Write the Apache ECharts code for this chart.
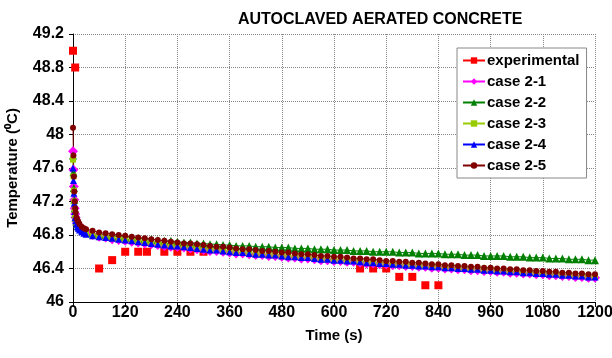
<!DOCTYPE html>
<html><head><meta charset="utf-8">
<script src="https://cdn.jsdelivr.net/npm/echarts@6/dist/echarts.min.js"></script>
<style>html,body{margin:0;padding:0;background:#fff}#c{width:612px;height:358px}</style>
</head><body><div id="c"></div>
<script>
const titleText = 'AUTOCLAVED AERATED CONCRETE';
const xName = 'Time (s)';
const yName = 'Temperature (\u2070C)';
const seriesNames = ['experimental','case 2-1','case 2-2','case 2-3','case 2-4','case 2-5'];

const expTime = [0,5,60,90,120,150,170,210,240,270,300,660,690,720,750,780,810,840];
const expTemp = [49.0,48.8,46.4,46.5,46.6,46.6,46.6,46.6,46.6,46.6,46.6,46.4,46.4,46.4,46.3,46.3,46.2,46.2];

const simTime = [0,1,2,3,4,5,6,8,10,12,15,20,25,30,
45,60,75,90,105,120,
135,150,165,180,195,210,225,240,255,270,285,300,315,330,345,360,375,390,405,420,
435,450,465,480,495,510,525,540,555,570,585,600,615,630,645,660,675,690,705,720,735,750,765,780,795,810,825,
840,855,870,885,900,915,930,945,960,975,990,1005,1020,1035,1050,1065,1080,1095,1110,1125,1140,1155,1170,1185,1200];

const case21 = [47.80,47.58,47.38,47.22,47.12,47.05,47.01,46.96,46.93,46.91,46.89,46.86,46.84,46.83,
46.80,46.78,46.77,46.75,46.74,46.73,
46.72,46.71,46.70,46.69,46.68,46.67,46.66,46.66,46.65,46.64,46.63,46.62,46.61,46.61,46.60,46.59,46.58,46.58,46.57,46.56,
46.56,46.55,46.55,46.54,46.53,46.53,46.52,46.52,46.51,46.50,46.50,46.49,46.49,46.48,46.48,46.47,46.46,46.46,46.45,46.45,46.44,46.44,46.43,46.43,46.42,46.42,46.41,
46.41,46.40,46.40,46.39,46.39,46.38,46.38,46.37,46.37,46.36,46.36,46.35,46.35,46.34,46.34,46.33,46.33,46.32,46.32,46.31,46.31,46.30,46.30,46.29,46.29];

const case22 = [47.75,47.55,47.36,47.22,47.12,47.05,47.01,46.96,46.93,46.91,46.89,46.87,46.85,46.84,
46.82,46.81,46.80,46.79,46.78,46.78,
46.77,46.76,46.75,46.75,46.74,46.73,46.73,46.72,46.71,46.71,46.70,46.70,46.69,46.69,46.68,46.68,46.67,46.67,46.67,46.66,
46.66,46.66,46.65,46.65,46.65,46.64,46.64,46.64,46.63,46.63,46.63,46.62,46.62,46.62,46.61,46.61,46.61,46.60,46.60,46.60,46.60,46.59,46.59,46.59,46.58,46.58,46.58,
46.58,46.57,46.57,46.57,46.56,46.56,46.56,46.55,46.55,46.55,46.55,46.54,46.54,46.54,46.53,46.53,46.53,46.52,46.52,46.52,46.51,46.51,46.51,46.50,46.50];

const case23 = [47.70,47.50,47.33,47.20,47.10,47.04,46.99,46.95,46.92,46.90,46.88,46.85,46.83,46.82,
46.79,46.78,46.77,46.76,46.75,46.74,
46.73,46.72,46.71,46.70,46.69,46.68,46.67,46.67,46.66,46.65,46.64,46.63,46.62,46.62,46.61,46.60,46.59,46.59,46.58,46.57,
46.57,46.56,46.56,46.55,46.54,46.54,46.53,46.53,46.52,46.51,46.51,46.50,46.50,46.49,46.49,46.48,46.47,46.47,46.46,46.46,46.45,46.45,46.44,46.44,46.43,46.43,46.42,
46.42,46.41,46.41,46.40,46.40,46.39,46.39,46.38,46.38,46.37,46.37,46.36,46.36,46.35,46.35,46.34,46.34,46.33,46.33,46.32,46.32,46.31,46.31,46.30,46.30];

const case24 = [47.60,47.45,47.30,47.18,47.08,47.01,46.97,46.93,46.90,46.88,46.86,46.84,46.82,46.81,
46.79,46.78,46.77,46.76,46.75,46.74,
46.73,46.72,46.71,46.70,46.69,46.68,46.67,46.67,46.66,46.65,46.64,46.63,46.62,46.62,46.61,46.60,46.59,46.59,46.58,46.57,
46.57,46.56,46.56,46.55,46.54,46.54,46.53,46.53,46.52,46.51,46.51,46.50,46.50,46.49,46.49,46.48,46.47,46.47,46.46,46.46,46.45,46.45,46.44,46.44,46.43,46.43,46.42,
46.42,46.41,46.41,46.40,46.40,46.39,46.39,46.38,46.38,46.37,46.37,46.36,46.36,46.35,46.35,46.34,46.34,46.33,46.33,46.32,46.32,46.31,46.31,46.30,46.30];

const case25 = [48.08,47.75,47.50,47.32,47.20,47.12,47.07,47.01,46.98,46.96,46.93,46.90,46.88,46.87,
46.85,46.83,46.82,46.81,46.80,46.79,
46.78,46.77,46.76,46.75,46.74,46.73,46.72,46.71,46.70,46.70,46.69,46.68,46.67,46.66,46.66,46.65,46.64,46.63,46.63,46.62,
46.61,46.61,46.60,46.59,46.59,46.58,46.57,46.57,46.56,46.55,46.55,46.54,46.54,46.53,46.52,46.52,46.51,46.51,46.50,46.49,46.49,46.48,46.48,46.47,46.47,46.46,46.45,
46.45,46.44,46.44,46.43,46.43,46.42,46.42,46.41,46.41,46.40,46.40,46.39,46.39,46.38,46.38,46.37,46.37,46.36,46.36,46.35,46.35,46.34,46.34,46.33,46.33];

const pair = (xs, ys) => xs.map((x, i) => [x, ys[i]]);
const FONT = 'Liberation Sans, Arial, sans-serif';

const chart = echarts.init(document.getElementById('c'), null, {renderer: 'canvas'});
function sim(name, data, color, symbol, size) {
  return {name, type: 'line', data, symbol, symbolSize: size, showSymbol: true,
    itemStyle: {color}, lineStyle: {color, width: 1}, animation: false, z: 3};
}
chart.setOption({
  animation: false,
  backgroundColor: '#fff',
  title: {text: titleText, left: 233, top: 7,
    textStyle: {fontFamily: FONT, fontSize: 16, fontWeight: 'bold', color: '#000'}},
  grid: {left: 73, right: 17, top: 34, bottom: 56, containLabel: false, outerBoundsMode: 'none'},
  legend: {
    orient: 'vertical', left: 457, top: 48,
    backgroundColor: '#fff', borderColor: '#888', borderWidth: 1,
    padding: [5, 7, 5, 5], itemGap: 6, itemWidth: 22, itemHeight: 8,
    textStyle: {fontFamily: FONT, fontSize: 15, fontWeight: 'bold', color: '#000', padding: [0,0,0,-3]},
    data: [
      {name: seriesNames[0], lineStyle: {width: 2, color: '#ff0000', opacity: 1}},
      seriesNames[1], seriesNames[2], seriesNames[3], seriesNames[4], seriesNames[5]
    ]
  },
  xAxis: {
    type: 'value', min: 0, max: 1200, interval: 120,
    name: xName, nameLocation: 'middle', nameGap: 26,
    nameTextStyle: {fontFamily: FONT, fontSize: 15, fontWeight: 'bold', color: '#000'},
    axisLine: {lineStyle: {color: '#000', width: 1}},
    axisTick: {show: true, length: 5, lineStyle: {color: '#000'}},
    axisLabel: {fontFamily: FONT, fontSize: 16, fontWeight: 'bold', color: '#000', margin: 3,
      formatter: v => String(v)},
    splitLine: {show: true, lineStyle: {color: '#888', type: 'dotted', width: 1}}
  },
  yAxis: {
    type: 'value', min: 46, max: 49.2, interval: 0.4,
    name: yName, nameLocation: 'middle', nameGap: 53, nameRotate: 90,
    nameTextStyle: {fontFamily: FONT, fontSize: 15, fontWeight: 'bold', color: '#000'},
    axisLine: {show: true, lineStyle: {color: '#000', width: 1}},
    axisTick: {show: true, length: 4, lineStyle: {color: '#000'}},
    axisLabel: {fontFamily: FONT, fontSize: 16, fontWeight: 'bold', color: '#000', margin: 9},
    splitLine: {show: true, lineStyle: {color: '#888', type: 'dotted', width: 1}}
  },
  series: [
    {name: seriesNames[0], type: 'line', data: pair(expTime, expTemp), symbol: 'rect', symbolSize: 8,
      itemStyle: {color: '#ff0000'}, lineStyle: {width: 0, opacity: 0}, z: 2},
    sim(seriesNames[1], pair(simTime, case21), '#ff00ff', 'diamond', 10),
    sim(seriesNames[2], pair(simTime, case22), '#008000', 'triangle', 8),
    sim(seriesNames[3], pair(simTime, case23), '#99cc00', 'rect', 6),
    sim(seriesNames[4], pair(simTime, case24), '#0000ff', 'triangle', 7),
    sim(seriesNames[5], pair(simTime, case25), '#800000', 'circle', 6)
  ]
});
</script></body></html>
